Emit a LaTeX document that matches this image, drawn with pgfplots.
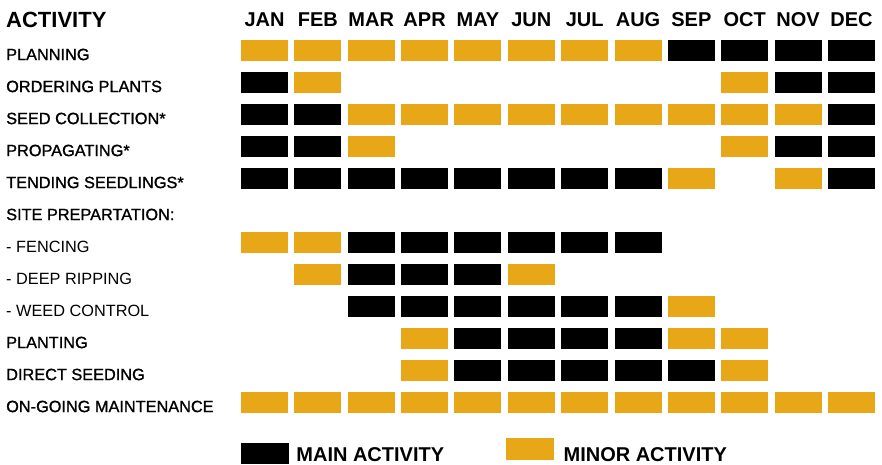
\documentclass[border=0pt]{standalone}
\usepackage{pgfplots}
\pgfplotsset{compat=1.18}
\usepackage{fontspec}
\setmainfont{Liberation Sans}
\newfontfamily\medfont[FakeBold=1.2]{Liberation Sans}
\definecolor{gold}{HTML}{E8A717}
\pgfdeclareplotmark{cell}{\pgfpathrectangle{\pgfqpoint{-23.5pt}{-10.5pt}}{\pgfqpoint{47pt}{21pt}}\pgfusepathqfill}
\newcommand{\rowfont}{\fontsize{16.3}{19}\selectfont}
\begin{document}
\begin{tikzpicture}
\begin{axis}[
  x=53.36pt, y=32pt, y dir=reverse,
  xmin=-3.957, xmax=12.572, ymin=-0.578, ymax=13.922,
  hide axis, clip=false,
  legend columns=2,
  legend style={at={(axis cs:0.5596,13.51)}, anchor=west, draw=none, fill=none,
    inner sep=0pt, outer sep=0pt, font=\fontsize{20}{24}\selectfont\bfseries,
    nodes={inner sep=0pt},
    /tikz/every even column/.append style={column sep=62pt}},
]
% main activity (black)
\addplot[only marks, mark=cell, black,
  legend image code/.code={\fill[black] (0pt,-8pt) rectangle (47pt,12pt); \path (55pt,0pt);}]
coordinates {
 (9,1) (10,1) (11,1) (12,1)
 (1,2) (11,2) (12,2)
 (1,3) (2,3) (12,3)
 (1,4) (2,4) (11,4) (12,4)
 (1,5) (2,5) (3,5) (4,5) (5,5) (6,5) (7,5) (8,5) (12,5)
 (3,7) (4,7) (5,7) (6,7) (7,7) (8,7)
 (3,8) (4,8) (5,8)
 (3,9) (4,9) (5,9) (6,9) (7,9) (8,9)
 (5,10) (6,10) (7,10) (8,10)
 (5,11) (6,11) (7,11) (8,11) (9,11)
};
\addlegendentry{MAIN ACTIVITY}
% minor activity (gold)
\addplot[only marks, mark=cell, gold,
  legend image code/.code={\fill[gold] (0pt,-4pt) rectangle (47pt,17pt); \path (57pt,0pt);}]
coordinates {
 (1,1) (2,1) (3,1) (4,1) (5,1) (6,1) (7,1) (8,1)
 (2,2) (10,2)
 (3,3) (4,3) (5,3) (6,3) (7,3) (8,3) (9,3) (10,3) (11,3)
 (3,4) (10,4)
 (9,5) (11,5)
 (1,7) (2,7)
 (2,8) (6,8)
 (9,9)
 (4,10) (9,10) (10,10)
 (4,11) (10,11)
 (1,12) (2,12) (3,12) (4,12) (5,12) (6,12) (7,12) (8,12) (9,12) (10,12) (11,12) (12,12)
};
\addlegendentry{MINOR ACTIVITY}
% header
\node[anchor=base west, inner sep=0pt, font=\fontsize{22}{26}\selectfont\bfseries] at (axis cs:-3.844,0.29) {ACTIVITY};
\foreach \m/\lab in {1/JAN,2/FEB,3/MAR,4/APR,5/MAY,6/JUN,7/JUL,8/AUG,9/SEP,10/OCT,11/NOV,12/DEC}{
  \edef\temp{\noexpand\node[anchor=base, inner sep=0pt, font=\noexpand\fontsize{20}{24}\noexpand\selectfont\noexpand\bfseries] at (axis cs:\m,0.26) {\lab};}
  \temp
}
% row labels
\node[anchor=base west, inner sep=0pt, font=\rowfont\medfont] at (axis cs:-3.844,1.3) {PLANNING};
\node[anchor=base west, inner sep=0pt, font=\rowfont\medfont] at (axis cs:-3.844,2.3) {ORDERING PLANTS};
\node[anchor=base west, inner sep=0pt, font=\rowfont\medfont] at (axis cs:-3.844,3.3) {SEED COLLECTION*};
\node[anchor=base west, inner sep=0pt, font=\rowfont\medfont] at (axis cs:-3.844,4.3) {PROPAGATING*};
\node[anchor=base west, inner sep=0pt, font=\rowfont\medfont] at (axis cs:-3.844,5.3) {TENDING SEEDLINGS*};
\node[anchor=base west, inner sep=0pt, font=\rowfont\medfont] at (axis cs:-3.844,6.3) {SITE PREPARTATION:};
\node[anchor=base west, inner sep=0pt, font=\rowfont] at (axis cs:-3.844,7.3) {- FENCING};
\node[anchor=base west, inner sep=0pt, font=\rowfont] at (axis cs:-3.844,8.3) {- DEEP RIPPING};
\node[anchor=base west, inner sep=0pt, font=\rowfont] at (axis cs:-3.844,9.3) {- WEED CONTROL};
\node[anchor=base west, inner sep=0pt, font=\rowfont\medfont] at (axis cs:-3.844,10.3) {PLANTING};
\node[anchor=base west, inner sep=0pt, font=\rowfont\medfont] at (axis cs:-3.844,11.3) {DIRECT SEEDING};
\node[anchor=base west, inner sep=0pt, font=\rowfont\medfont] at (axis cs:-3.844,12.3) {ON-GOING MAINTENANCE};
\end{axis}
\pgfresetboundingbox
\path (current axis.south west) rectangle (current axis.north east);
\end{tikzpicture}
\end{document}
